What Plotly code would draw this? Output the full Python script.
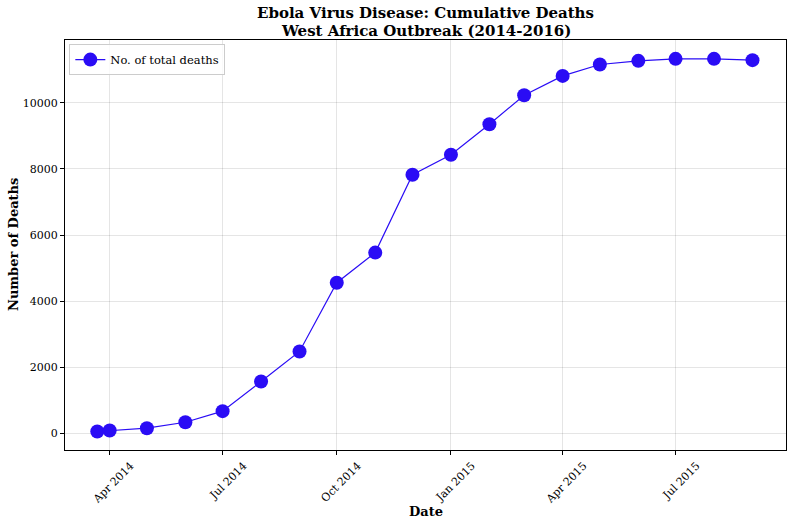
import plotly.graph_objects as go

dates = ["2014-03-22", "2014-04-01", "2014-05-01", "2014-06-01", "2014-07-01", "2014-08-01",
         "2014-09-01", "2014-10-01", "2014-11-01", "2014-12-01", "2015-01-01", "2015-02-01",
         "2015-03-01", "2015-04-01", "2015-05-01", "2015-06-01", "2015-07-01", "2015-08-01",
         "2015-09-01"]
deaths = [60, 90, 160, 340, 675, 1570, 2480, 4560, 5470, 7825, 8430, 9350,
          10230, 10815, 11160, 11270, 11330, 11330, 11290]

tick_vals = ["2014-04-01", "2014-07-01", "2014-10-01", "2015-01-01", "2015-04-01", "2015-07-01"]
tick_text = ["Apr 2014", "Jul 2014", "Oct 2014", "Jan 2015", "Apr 2015", "Jul 2015"]
y_ticks = [0, 2000, 4000, 6000, 8000, 10000]

color = "#2a0cf5"
font = "DejaVu Serif"

fig = go.Figure()
fig.add_trace(go.Scatter(
    x=dates, y=deaths, mode="lines+markers", name="No. of total deaths",
    line=dict(color=color, width=1.2),
    marker=dict(color=color, size=14),
))

fig.update_layout(
    width=793, height=525,
    margin=dict(l=65, r=7, t=40, b=75, autoexpand=False),
    paper_bgcolor="white", plot_bgcolor="white",
    font=dict(family=font, color="black", size=11),
    showlegend=True,
    legend=dict(x=0.006, y=0.99, xanchor="left", yanchor="top",
                bordercolor="#cccccc", borderwidth=1, bgcolor="rgba(255,255,255,0.8)",
                font=dict(family=font, size=11.5), itemwidth=30),
    annotations=[
        dict(text="<b>Ebola Virus Disease: Cumulative Deaths</b>", xref="paper", yref="paper",
             x=0.5, y=1, yanchor="middle", yshift=27, showarrow=False, font=dict(family=font, size=15)),
        dict(text="<b>West Africa Outbreak (2014-2016)</b>", xref="paper", yref="paper",
             x=0.5, y=1, yanchor="middle", yshift=9, showarrow=False, font=dict(family=font, size=15)),
        dict(text="<b>Date</b>", xref="paper", yref="paper", x=0.5, y=0, yanchor="middle", yshift=-61,
             showarrow=False, font=dict(family=font, size=13)),
        dict(text="<b>Number of Deaths</b>", xref="paper", yref="paper", x=0, xanchor="center",
             xshift=-52, y=0.5, yanchor="middle",
             textangle=-90, showarrow=False, font=dict(family=font, size=13)),
    ],
)

fig.update_xaxes(
    type="date", range=["2014-02-24", "2015-09-28"],
    tickvals=tick_vals, ticktext=tick_text, tickangle=-45,
    ticklabelshift=21,
    showgrid=True, gridcolor="rgba(0,0,0,0.1)", gridwidth=1,
    showline=True, linecolor="black", linewidth=1, mirror=True,
    ticks="outside", ticklen=4, tickcolor="black", automargin=False,
    tickfont=dict(family=font, size=11),
    zeroline=False,
)
fig.update_yaxes(
    range=[-500, 11900], tickvals=y_ticks, ticktext=[str(v) for v in y_ticks],
    showgrid=True, gridcolor="rgba(0,0,0,0.1)", gridwidth=1,
    showline=True, linecolor="black", linewidth=1, mirror=True,
    ticks="outside", ticklen=4, tickcolor="black", automargin=False,
    tickfont=dict(family=font, size=11),
    zeroline=False,
)

fig.write_html("out.html", config={"displayModeBar": False},
               post_script="document.body.style.margin='0px';")
